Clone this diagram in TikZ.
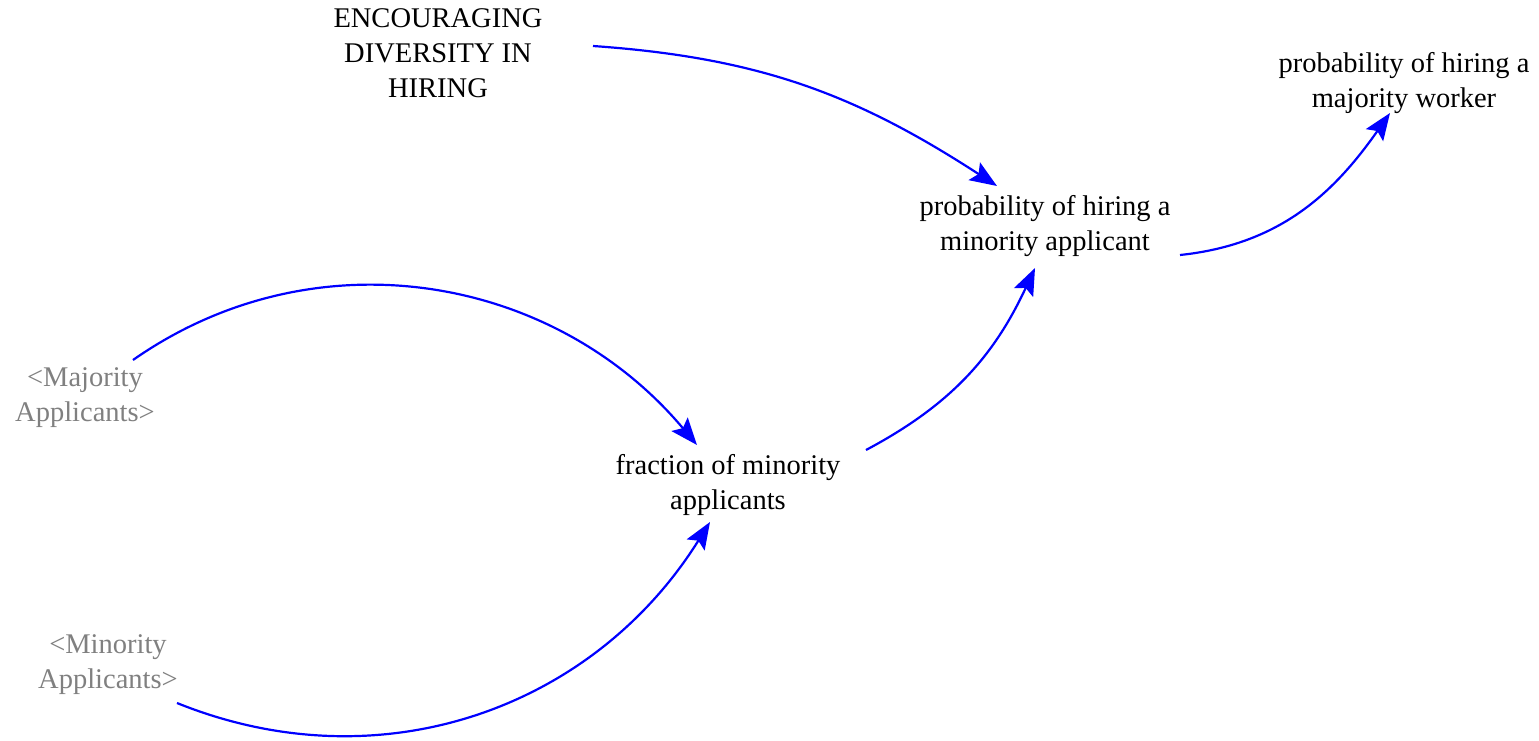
\documentclass[tikz,border=0pt]{standalone}
\usepackage{fontspec}
\setmainfont{Liberation Serif}
\usetikzlibrary{arrows.meta}
\definecolor{linkblue}{RGB}{0,0,255}
\definecolor{shadowgray}{RGB}{128,128,128}
\begin{document}
\begin{tikzpicture}[x=1pt,y=-1pt,
  lbl/.style={align=center,inner sep=0pt,font=\fontsize{28.5}{35}\selectfont,text=black},
  shadow/.style={lbl,text=shadowgray},
  link/.style={draw=linkblue,line width=2.2pt,-{Stealth[length=27pt,width=21pt,inset=5pt]}}]
\useasboundingbox (0,0) rectangle (1539,741);
\node[lbl] (enc) at (438,53) {ENCOURAGING\\DIVERSITY IN\\HIRING};
\node[lbl] (pmaj) at (1404,83) {probability of hiring a\\majority worker};
\node[lbl] (pmin) at (1045,226) {probability of hiring a\\minority applicant};
\node[lbl] (frac) at (728,485) {fraction of minority\\applicants};
\node[shadow] (majapp) at (85,398) {<Majority\\Applicants>};
\node[shadow] (minapp) at (108,665) {<Minority\\Applicants>};
\coordinate (e1) at (593,46);
\coordinate (e1t) at (997,186);
\coordinate (p1) at (1180,255);
\coordinate (p1t) at (1390,113);
\coordinate (m1) at (133,360);
\coordinate (m1t) at (697,445);
\coordinate (n1) at (177,703);
\coordinate (n1t) at (710,522);
\coordinate (f1) at (866,450);
\coordinate (f1t) at (1035,268);
\draw[link] (e1) to[out=-4,in=147] (e1t);
\draw[link] (p1) to[out=6,in=-125] (p1t);
\draw[link] (m1) to[out=35,in=130] (m1t);
\draw[link] (n1) to[out=-22,in=-122] (n1t);
\draw[link] (f1) to[out=28,in=-115] (f1t);
\end{tikzpicture}
\end{document}
